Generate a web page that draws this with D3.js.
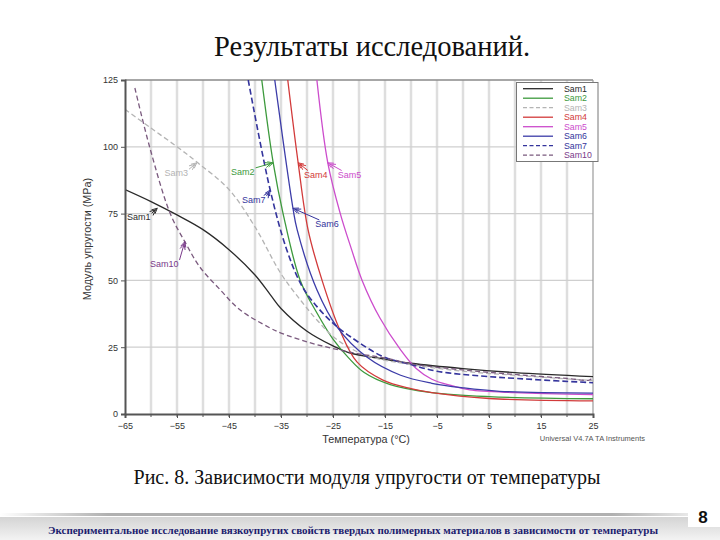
<!DOCTYPE html>
<html><head><meta charset="utf-8">
<script src="https://cdn.jsdelivr.net/npm/d3@7"></script>
<style>
html,body{margin:0;padding:0;background:#fff;}
svg{display:block;}
</style>
</head><body>
<svg id="c" width="720" height="540"></svg>
<script>
// ---- data (temperature °C, modulus MPa) ----
const seriesNames = ["Sam1","Sam2","Sam3","Sam4","Sam5","Sam6","Sam7","Sam10"];
const sam1 = [[-65,84],[-60,79.5],[-55,74.5],[-50,69],[-45,61.5],[-40,52],[-37,44.5],[-35,39.5],[-30,31],[-25,25.5],[-22,23],[-15,20.5],[-10,19],[0,17],[10,15.5],[25,14]];
const sam2 = [[-38.7,125],[-36.5,94],[-34.6,75],[-31.3,50],[-28,37.5],[-25,28],[-22,21],[-19,15.5],[-14,11],[-6,8],[5,6.5],[25,5.7]];
const sam3 = [[-65,114],[-60,107],[-55,100],[-51,94],[-45,84],[-40,70],[-35,52.5],[-31,42],[-28,35],[-25,29],[-22,25],[-18,21.5],[-10,18.5],[0,16],[10,14.5],[25,12.5]];
const sam4 = [[-33.7,125],[-31.7,94],[-29.8,69],[-27.1,50],[-23.7,31.5],[-20.4,19.5],[-15.4,12.7],[-10,9.5],[-6,8],[5,5.8],[25,4.9]];
const sam5 = [[-28.1,125],[-26,94],[-23.6,75],[-21.5,62],[-19.4,50],[-16,36],[-12,24],[-9,17],[-6,13],[-2,10.5],[1.3,9],[10,8],[25,7.3]];
const sam6 = [[-36.2,125],[-32.7,77],[-31.9,69],[-28.1,46.5],[-24.2,32.5],[-18.5,21.3],[-12,14.5],[-6,11.5],[0,9.8],[7,8.5],[25,7.8]];
const sam7 = [[-41.3,125],[-37.1,84],[-33.9,61.5],[-31,48],[-28,40],[-25,34],[-21.7,29],[-15.4,21.5],[-10,18.5],[-5,16],[5,14],[25,11.7]];
const sam10 = [[-63.1,122],[-60.2,99.5],[-56.3,75],[-53.5,64.5],[-50.6,55],[-46.7,46.5],[-42.9,39],[-37.1,32.2],[-35,30.3],[-30,27],[-25,24.5],[-20,22.5],[-15,21],[-10,18.8],[0,16.5],[10,14.8],[20,13.3],[24.3,12.7],[25,13.8]];
const xTicks = [-65,-55,-45,-35,-25,-15,-5,5,15,25];
const xGrid = [-60,-55,-50,-45,-40,-35,-30,-25,-20,-15,-10,-5,0,5,10,15,20];
const yTicks = [0,25,50,75,100,125];
const colors = ["#2a2a2a","#3d9a3d","#b4b4b4","#d23a3a","#cc4ccc","#3c3ca8","#34349c","#7a5a7e"];
const labelColors = ["#2a2a2a","#3d9a3d","#b4b4b4","#d23a3a","#cc4ccc","#34349c","#34349c","#7a3a8a"];
const dashed = [false,false,true,false,false,false,true,true];
// annotation: [series index, label x(°C), label y(MPa), arrow tip x(°C), tip y(MPa)]
const annotations = [[0,-64.6,72.5,-58.8,77],[2,-57.4,89,-51.2,94],[7,-60.2,55,-53.5,64.5],[1,-44.6,89.5,-36.5,94],[6,-42.5,79,-37.1,83.8],[3,-30.6,88.5,-31.7,94],[4,-24.1,88.5,-26,94],[5,-28.4,70,-32.7,77]];

const data = [sam1,sam2,sam3,sam4,sam5,sam6,sam7,sam10];

const svg = d3.select("#c");
const L = 125, R = 593, T = 80, B = 414;
const x = d3.scaleLinear().domain([-65,25]).range([L,R]);
const y = d3.scaleLinear().domain([0,125]).range([B,T]);

// title
svg.append("text").attr("x",372).attr("y",56).attr("text-anchor","middle")
  .attr("font-family","Liberation Serif, Times New Roman, serif").attr("font-size",28.5)
  .attr("fill","#111").text("Результаты исследований.");

// grid
svg.append("g").selectAll("line").data(xGrid).join("line")
  .attr("x1",d=>x(d)).attr("x2",d=>x(d)).attr("y1",T).attr("y2",B)
  .attr("stroke","#dedede").attr("stroke-width",2.5);
svg.append("g").selectAll("line").data(yTicks.filter(d=>d>0&&d<125)).join("line")
  .attr("x1",L).attr("x2",R).attr("y1",d=>y(d)).attr("y2",d=>y(d))
  .attr("stroke","#cfcfcf").attr("stroke-width",1.2);
// frame top & right
svg.append("line").attr("x1",L).attr("x2",R).attr("y1",T).attr("y2",T).attr("stroke","#8a8a8a").attr("stroke-width",1.5);
svg.append("line").attr("x1",R).attr("x2",R).attr("y1",T).attr("y2",B).attr("stroke","#9a9a9a").attr("stroke-width",1.2);

// clip
svg.append("clipPath").attr("id","pc").append("rect").attr("x",L).attr("y",T).attr("width",R-L).attr("height",B-T);

const line = d3.line().x(d=>x(d[0])).y(d=>y(d[1])).curve(d3.curveCatmullRom.alpha(0.5));
const gl = svg.append("g").attr("clip-path","url(#pc)");
data.forEach((s,i)=>{
  gl.append("path").attr("d",line(s)).attr("fill","none")
    .attr("stroke",colors[i]).attr("stroke-width", i===6?1.6:1.3)
    .attr("stroke-dasharray", dashed[i] ? (i===6?"6,3":"5,3") : null);
});

// axes
const xAxis = d3.axisBottom(x).tickValues(xTicks).tickSize(4).tickFormat(d3.format("d"));
const gx = svg.append("g").attr("transform",`translate(0,${B})`).call(xAxis);
gx.select(".domain").attr("stroke","#555").attr("stroke-width",2);
gx.selectAll(".tick line").attr("stroke","#555");
gx.selectAll("text").attr("font-family","Arial, Liberation Sans, sans-serif").attr("font-size",9).attr("fill","#333").attr("dy","0.9em");
// minor ticks at every 5
svg.append("g").selectAll("line").data(xGrid).join("line")
  .attr("x1",d=>x(d)).attr("x2",d=>x(d)).attr("y1",B).attr("y2",B+3).attr("stroke","#555");

const yAxis = d3.axisLeft(y).tickValues(yTicks).tickSize(4).tickFormat(d3.format("d"));
const gy = svg.append("g").attr("transform",`translate(${L},0)`).call(yAxis);
gy.select(".domain").attr("stroke","#555").attr("stroke-width",2);
gy.selectAll(".tick line").attr("stroke","#555");
gy.selectAll("text").attr("font-family","Arial, Liberation Sans, sans-serif").attr("font-size",9).attr("fill","#333");

// axis titles
svg.append("text").attr("x",366).attr("y",443).attr("text-anchor","middle")
  .attr("font-family","Arial, Liberation Sans, sans-serif").attr("font-size",10.8).attr("fill","#333")
  .text("Температура (°C)");
svg.append("text").attr("transform","translate(91,239) rotate(-90)").attr("text-anchor","middle")
  .attr("font-family","Arial, Liberation Sans, sans-serif").attr("font-size",10.8).attr("fill","#333")
  .text("Модуль упругости (MPa)");
svg.append("text").attr("x",645).attr("y",441).attr("text-anchor","end")
  .attr("font-family","Arial, Liberation Sans, sans-serif").attr("font-size",7.5).attr("fill","#555")
  .text("Universal V4.7A TA Instruments");

// annotations
const defs = svg.append("defs");
annotations.forEach(a=>{
  const i=a[0];
  const lx=x(a[1]), ly=y(a[2]), tx=x(a[3]), ty=y(a[4]);
  const t = svg.append("text").attr("x",lx).attr("y",ly).attr("font-family","Arial, Liberation Sans, sans-serif")
    .attr("font-size",9).attr("fill",labelColors[i]).text(seriesNames[i]);
  const bb = t.node().getBBox();
  const sx = tx > bb.x + bb.width ? bb.x + bb.width + 1 : (tx < bb.x ? bb.x + 4 : bb.x + bb.width/2);
  const sy = bb.y + 1;
  svg.append("line").attr("x1",sx).attr("y1",sy).attr("x2",tx).attr("y2",ty)
    .attr("stroke",labelColors[i]).attr("stroke-width",1);
  const ang = Math.atan2(ty-sy, tx-sx);
  const h=6, w=0.45;
  [0,2.5].forEach(off=>{
    const bx = tx - off*Math.cos(ang), by = ty - off*Math.sin(ang);
    const p1=[bx - h*Math.cos(ang-w), by - h*Math.sin(ang-w)];
    const p2=[bx - h*Math.cos(ang+w), by - h*Math.sin(ang+w)];
    svg.append("path").attr("d",`M${p1[0]},${p1[1]}L${bx},${by}L${p2[0]},${p2[1]}`)
      .attr("fill","none").attr("stroke",labelColors[i]).attr("stroke-width",1);
  });
});

// legend
const lg = svg.append("g");
lg.append("rect").attr("x",516.5).attr("y",82.5).attr("width",81.5).attr("height",79)
  .attr("fill","#fff").attr("stroke","#777").attr("stroke-width",1);
const ly0 = 88.7, ldy = 9.5;
seriesNames.forEach((n,i)=>{
  const yy = ly0 + i*ldy;
  lg.append("line").attr("x1",523).attr("x2",553).attr("y1",yy).attr("y2",yy)
    .attr("stroke",colors[i]).attr("stroke-width",1.3)
    .attr("stroke-dasharray", dashed[i] ? "4,2.5" : null);
  lg.append("text").attr("x",564).attr("y",yy+3).attr("font-family","Arial, Liberation Sans, sans-serif")
    .attr("font-size",8.8).attr("fill",labelColors[i]).text(n);
});

// caption
svg.append("text").attr("x",367).attr("y",484).attr("text-anchor","middle")
  .attr("font-family","Liberation Serif, Times New Roman, serif").attr("font-size",20)
  .attr("fill","#111").text("Рис. 8. Зависимости модуля упругости от температуры");

// footer
const fg = defs.append("linearGradient").attr("id","fb").attr("x1",0).attr("y1",0).attr("x2",0).attr("y2",1);
fg.append("stop").attr("offset",0).attr("stop-color","#d4d4d4");
fg.append("stop").attr("offset",1).attr("stop-color","#f3f3f3");
const fl = defs.append("linearGradient").attr("id","fl").attr("x1",0).attr("y1",0).attr("x2",1).attr("y2",0);
fl.append("stop").attr("offset",0).attr("stop-color","#ffffff");
fl.append("stop").attr("offset",0.15).attr("stop-color","#b0b0b0");
fl.append("stop").attr("offset",0.85).attr("stop-color","#b0b0b0");
fl.append("stop").attr("offset",1).attr("stop-color","#ffffff");
svg.append("rect").attr("x",0).attr("y",513).attr("width",720).attr("height",3).attr("fill","url(#fl)");
svg.append("rect").attr("x",0).attr("y",517).attr("width",720).attr("height",23).attr("fill","url(#fb)");
svg.append("rect").attr("x",688).attr("y",503).attr("width",32).attr("height",24).attr("fill","#fff");
svg.append("text").attr("x",703).attr("y",523).attr("text-anchor","middle")
  .attr("font-family","Liberation Sans, Arial, sans-serif").attr("font-weight","bold").attr("font-size",17)
  .attr("fill","#111").text("8");
svg.append("text").attr("x",353).attr("y",534).attr("text-anchor","middle")
  .attr("font-family","Liberation Serif, Times New Roman, serif").attr("font-weight","bold").attr("font-size",11)
  .attr("fill","#1c1c6e").text("Экспериментальное исследование вязкоупругих свойств твердых полимерных материалов в зависимости от температуры");
</script>
</body></html>
